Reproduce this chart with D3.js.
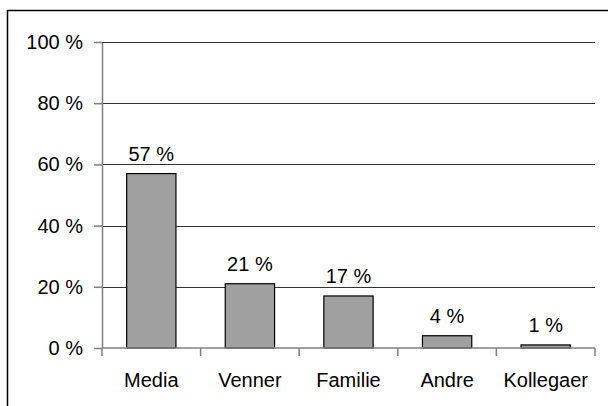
<!DOCTYPE html>
<html lang="en">
<head>
    <meta charset="UTF-8">
    <title>Bar chart</title>
    <script src="https://d3js.org/d3.v7.min.js"></script>
    <style>
        body { margin: 0; background: #fff; }
        svg { display: block; font-family: Arial, "Liberation Sans", sans-serif; }
    </style>
</head>
<body>
    <div id="chart"></div>
    <script>
        // values
        const categories = ["Media", "Venner", "Familie", "Andre", "Kollegaer"];
        const shares = [57, 21, 17, 4, 1];
        const yTicks = [0, 20, 40, 60, 80, 100];

        const width = 608, height = 406;
        const margin = { top: 42, right: 13, bottom: 58, left: 102 };
        const fontSize = 20;

        const svg = d3.select("#chart").append("svg")
            .attr("width", width)
            .attr("height", height);

        // outer frame (cut off on the right and bottom like in the original)
        svg.append("rect")
            .attr("x", 7.5).attr("y", 10.5)
            .attr("width", width + 10).attr("height", height + 10)
            .attr("fill", "none").attr("stroke", "#000").attr("stroke-width", 1.5);

        const x = d3.scaleBand()
            .domain(categories)
            .range([margin.left, width - margin.right])
            .paddingInner(0.5).paddingOuter(0.25);

        const y = d3.scaleLinear()
            .domain([0, 100])
            .range([height - margin.bottom, margin.top]);

        // gridlines
        svg.append("g")
            .selectAll("line")
            .data(yTicks.filter(d => d > 0))
            .join("line")
            .attr("x1", margin.left).attr("x2", width - margin.right)
            .attr("y1", d => Math.round(y(d)) + 0.5).attr("y2", d => Math.round(y(d)) + 0.5)
            .attr("stroke", "#333").attr("stroke-width", 1);

        // y axis
        const yAxis = svg.append("g")
            .attr("transform", `translate(${margin.left},0)`)
            .call(d3.axisLeft(y).tickValues(yTicks).tickFormat(d => d + " %").tickSize(8).tickSizeOuter(0).tickPadding(11));
        yAxis.select(".domain").attr("stroke", "#808080").attr("stroke-width", 1.5);
        yAxis.selectAll(".tick line").attr("stroke", "#808080").attr("stroke-width", 1.5);
        yAxis.selectAll("text").attr("font-size", fontSize).attr("fill", "#000");

        // bars
        svg.append("g")
            .selectAll("rect")
            .data(shares)
            .join("rect")
            .attr("x", (d, i) => x(categories[i]))
            .attr("y", d => y(d))
            .attr("width", x.bandwidth())
            .attr("height", d => y(0) - y(d))
            .attr("fill", "#a0a0a0")
            .attr("stroke", "#000")
            .attr("stroke-width", 1.2);

        // value labels
        svg.append("g")
            .selectAll("text")
            .data(shares)
            .join("text")
            .attr("x", (d, i) => x(categories[i]) + x.bandwidth() / 2)
            .attr("y", d => y(d) - 13)
            .attr("text-anchor", "middle")
            .attr("font-size", fontSize)
            .text(d => d + " %");

        // x axis: ticks between categories
        const step = x.step();
        const bounds = d3.range(categories.length + 1).map(i => margin.left + i * step);
        const xg = svg.append("g");
        xg.append("line")
            .attr("x1", margin.left).attr("x2", width - margin.right)
            .attr("y1", y(0)).attr("y2", y(0))
            .attr("stroke", "#808080").attr("stroke-width", 1.5);
        xg.selectAll("line.tk")
            .data(bounds)
            .join("line").attr("class", "tk")
            .attr("x1", d => d).attr("x2", d => d)
            .attr("y1", y(0)).attr("y2", y(0) + 8)
            .attr("stroke", "#808080").attr("stroke-width", 1.5);
        xg.selectAll("text")
            .data(categories)
            .join("text")
            .attr("x", d => x(d) + x.bandwidth() / 2)
            .attr("y", y(0) + 39)
            .attr("text-anchor", "middle")
            .attr("font-size", fontSize)
            .text(d => d);
    </script>
</body>
</html>
